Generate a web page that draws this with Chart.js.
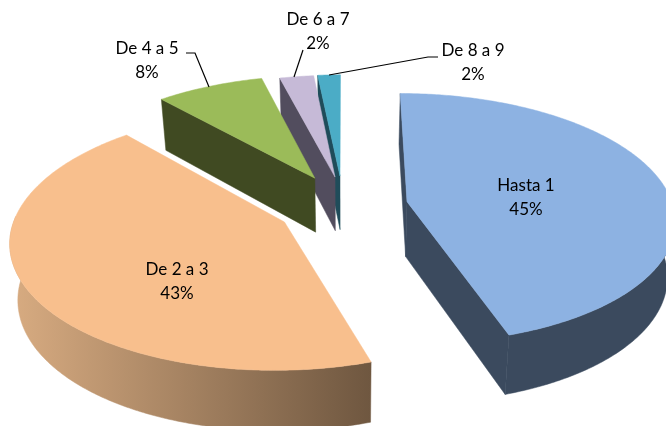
<!DOCTYPE html>
<html><head><meta charset="utf-8">
<script src="https://cdn.jsdelivr.net/npm/chart.js@4"></script>
<style>html,body{margin:0;padding:0;background:#fff;overflow:hidden}canvas{display:block}</style>
</head><body><canvas id="c" width="666" height="426"></canvas>
<script>
const categories = ["Hasta 1","De 2 a 3","De 4 a 5","De 6 a 7","De 8 a 9"];
const values = [45,43.4,7.6,2.4,1.6];
const percentLabels = ["45%","43%","8%","2%","2%"];
const topColors = ["#8DB2E2","#F8BF8D","#9BBB59","#C6BAD7","#4BACC6"];
const wallColors = ["#3B4A5E",null,"#404A22","#524D5E","#1F4C5A"];
const explode = [59,72,75,77,83];
const nudges = [[0,-2],[-1,-3],[0,0],[-1,3],[-5,5]];
const labelCentres = [[526,186],[177,270],[147,49],[318,20],[473,51]];
const leaders = [null,null,[[186,53],[195,53],[209,87]],[[303,50],[294,77]],[[438,57],[428,57],[329,75]]];
const PROJ = {cx:349, cy:208, k:-0.0005, kz:-0.0003, t:0.465, h:55, q:0.024};
const DRAW_ORDER = [4,3,2,0,1];

function project(u,v,z,n){
  const w = 1 + PROJ.k*v, wz = 1 + PROJ.kz*v;
  const sx = PROJ.cx + (u/w)*(1 - PROJ.q*z) + n[0];
  const sy = PROJ.cy + PROJ.t*v/w + PROJ.h*z/wz + n[1];
  return [sx,sy];
}
function poly(ctx,pts,fill){
  ctx.beginPath();
  pts.forEach((p,i)=> i?ctx.lineTo(p[0],p[1]):ctx.moveTo(p[0],p[1]));
  ctx.closePath();
  ctx.fillStyle = fill; ctx.strokeStyle = fill; ctx.lineWidth = 0.5;
  ctx.fill(); ctx.stroke();
}
const pie3d = {
  id:'pie3d',
  beforeDatasetsDraw(chart){
    const ctx = chart.ctx, arcs = chart.getDatasetMeta(0).data;
    DRAW_ORDER.forEach(i=>{
      const a = arcs[i], p = a.getProps(['startAngle','endAngle','outerRadius']);
      const off = a.options.offset, mid = (p.startAngle+p.endAngle)/2;
      const u0 = off*Math.cos(mid), v0 = off*Math.sin(mid), n = nudges[i];
      const rim = [], front = [], steps = Math.max(4, Math.ceil((p.endAngle-p.startAngle)*90));
      for(let s=0;s<=steps;s++){
        const th = p.startAngle + (p.endAngle-p.startAngle)*s/steps;
        const q = [u0+p.outerRadius*Math.cos(th), v0+p.outerRadius*Math.sin(th)];
        rim.push(q);
        if(Math.sin(th) > -0.05) front.push(q);
      }
      const at = (q,z)=>project(q[0],q[1],z,n), apex=[u0,v0];
      const topRim = rim.map(q=>at(q,0));
      const sideColor = wallColors[i] || "#6F5740";
      if(Math.cos(p.startAngle) < 0.01) poly(ctx,[at(apex,0),at(rim[0],0),at(rim[0],1),at(apex,1)],sideColor);
      if(Math.cos(p.endAngle) > 0.01) poly(ctx,[at(apex,0),at(rim[steps],0),at(rim[steps],1),at(apex,1)],sideColor);
      if(front.length > 1){
        const lowRim = front.map(q=>at(q,1));
        let wall = wallColors[i];
        if(!wall){
          const xs = lowRim.map(q=>q[0]);
          wall = ctx.createLinearGradient(Math.min(...xs),0,Math.max(...xs),0);
          wall.addColorStop(0,"#D6AA80"); wall.addColorStop(1,"#6F5740");
        }
        poly(ctx,front.map(q=>at(q,0)).concat(lowRim.reverse()),wall);
      }
      poly(ctx,[at(apex,0)].concat(topRim),a.options.backgroundColor);
    });
    return false;
  },
  afterDraw(chart){
    const ctx = chart.ctx;
    ctx.save();
    ctx.strokeStyle="#000"; ctx.lineWidth=1.2;
    leaders.forEach(l=>{
      if(!l) return;
      ctx.beginPath();
      l.forEach((p,i)=> i?ctx.lineTo(p[0],p[1]):ctx.moveTo(p[0],p[1]));
      ctx.stroke();
    });
    ctx.fillStyle="#000"; ctx.font="17px Lato"; ctx.textAlign="center"; ctx.textBaseline="middle";
    categories.forEach((c,i)=>{
      const [x,y]=labelCentres[i];
      ctx.fillText(c,x,y);
      ctx.fillText(percentLabels[i],x,y+23.5);
    });
    ctx.restore();
  }
};
new Chart(document.getElementById('c'),{
  type:'pie',
  data:{labels:categories,datasets:[{data:values,backgroundColor:topColors,borderWidth:0,offset:explode,radius:266}]},
  options:{
    responsive:false,animation:false,rotation:0,
    plugins:{legend:{display:false},tooltip:{enabled:false}},
    events:[]
  },
  plugins:[pie3d]
});
</script></body></html>
